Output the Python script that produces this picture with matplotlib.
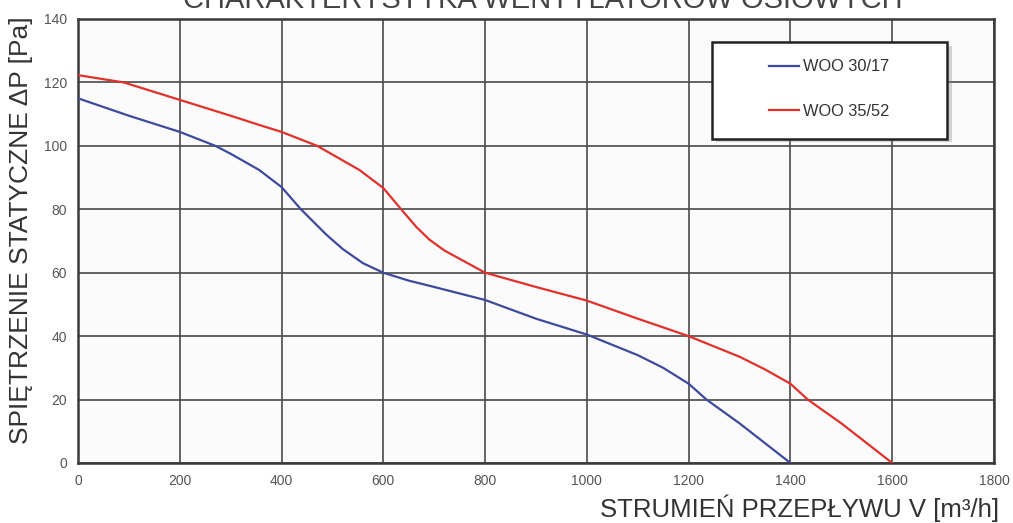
import matplotlib
matplotlib.use('Agg')
import matplotlib.pyplot as plt
from matplotlib.patches import Rectangle

plt.rcParams['font.family'] = ['Liberation Sans', 'DejaVu Sans']

# flow [m3/h] and static pressure [Pa]
flow_3017 = [0, 100, 200, 270, 300, 356, 400, 438, 488, 520, 560, 600, 650, 700,
             800, 900, 1000, 1100, 1150, 1200, 1235, 1300, 1400]
dp_3017 = [115, 109.5, 104.4, 100, 97.5, 92.4, 87, 80, 72, 67.5, 63, 60, 57.5, 55.5,
           51.4, 45.5, 40.5, 34, 30, 25, 20, 12.5, 0]

flow_3552 = [0, 90, 200, 300, 356, 400, 470, 553, 600, 635, 665, 690, 720, 760, 800,
             900, 1000, 1100, 1200, 1300, 1350, 1400, 1434, 1500, 1600]
dp_3552 = [122.3, 120, 114.5, 109.5, 106.6, 104.4, 100, 92.4, 86.7, 80, 74.4, 70.5, 67, 63.5, 60,
           55.5, 51.2, 45.5, 40, 33.5, 29.5, 25, 20, 12.5, 0]

series_labels = ['WOO 30/17', 'WOO 35/52']
x_ticks = list(range(0, 1801, 200))
y_ticks = list(range(0, 141, 20))

fig = plt.figure(figsize=(10.13, 5.23), dpi=100)
fig.patch.set_facecolor('white')
ax = fig.add_axes([78 / 1013, 1 - 463 / 523, 916 / 1013, 444 / 523])
ax.set_facecolor('#fbfbfb')

ax.plot(flow_3017, dp_3017, color='#3d4a9e', lw=1.6, label=series_labels[0], zorder=3)
ax.plot(flow_3552, dp_3552, color='#e2302b', lw=1.6, label=series_labels[1], zorder=3)

ax.set_xlim(0, 1800)
ax.set_ylim(0, 140)
ax.set_xticks(x_ticks)
ax.set_yticks(y_ticks)
ax.grid(True, color='#4a4a4a', lw=1.2)
ax.set_axisbelow(True)
for s in ax.spines.values():
    s.set_color('#3a3a3a')
    s.set_linewidth(1.8)
ax.tick_params(length=0, labelsize=10, labelcolor='#555555', pad=8)

ax.set_xlabel('STRUMIEŃ PRZEPŁYWU V [m³/h]', fontsize=18.5, color='#333333')
ax.xaxis.set_label_coords(1.006, -0.1216)
ax.xaxis.label.set_ha('right')
ax.xaxis.label.set_va('baseline')
ax.set_ylabel('SPIĘTRZENIE STATYCZNE ΔP [Pa]', fontsize=19, color='#333333')
ax.yaxis.set_label_coords(-0.049, 0.525)

# title is cut by the top edge, as in the original picture
fig.text(0.536, 1 - 8 / 523, 'CHARAKTERYSTYKA WENTYLATORÓW OSIOWYCH', ha='center',
         va='baseline', fontsize=21, color='#444444')

# legend box with shadow
ax.add_patch(Rectangle((0.697, 0.722), 0.257, 0.218, transform=ax.transAxes,
                       facecolor='#888888', edgecolor='none', alpha=0.35, zorder=4))
ax.add_patch(Rectangle((0.692, 0.73), 0.257, 0.218, transform=ax.transAxes,
                       facecolor='white', edgecolor='#222222', lw=1.8, zorder=5))
leg = ax.legend(loc='center', bbox_to_anchor=(0.82, 0.842), frameon=False, fontsize=11.8,
                labelspacing=1.8, handlelength=1.85, handletextpad=0.25, labelcolor='#333333')
leg.set_zorder(6)

fig.savefig('out.png', dpi=100)
